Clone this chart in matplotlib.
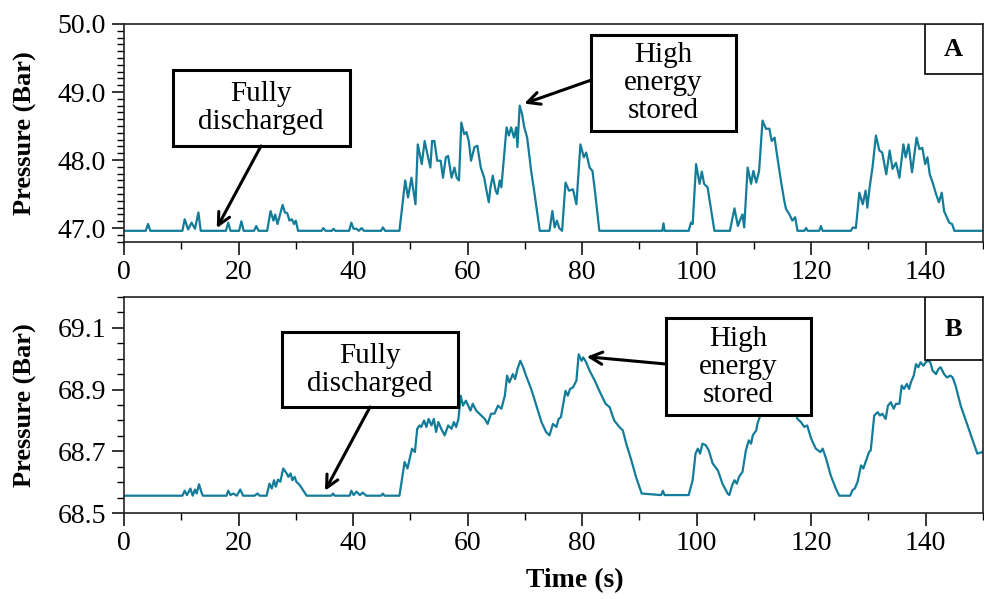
import matplotlib
matplotlib.use("Agg")
import matplotlib.pyplot as plt
from matplotlib.patches import Rectangle
from matplotlib.ticker import MultipleLocator, FormatStrFormatter

plt.rcParams["font.family"] = ["Liberation Serif", "DejaVu Serif"]

LINE_COLOR = "#137c99"

# Panel A: time (s) and pressure (bar)
time_a = [0, 3.8, 4.2, 4.6, 10.2, 10.6, 11.2, 11.8, 12.4, 13.0, 13.4, 17.8, 18.2, 18.6,
          20.1, 20.5, 20.9, 22.7, 23.1, 23.5, 25.0, 25.6, 26.1, 26.4, 26.8, 27.7, 28.1,
          28.5, 28.9, 29.3, 29.7, 30.0, 30.4, 34.5, 34.8, 35.2, 36.3, 36.6, 36.9, 39.3,
          39.7, 40.1, 40.6, 41.0, 41.5, 41.9, 44.9, 45.2, 45.6, 48.1, 49.1, 49.6, 50.2,
          50.9, 51.3, 52.0, 52.5, 53.1, 53.5, 53.8, 54.2, 54.7, 55.3, 55.7, 56.2, 56.6,
          57.2, 57.7, 58.1, 58.5, 58.9, 59.4, 59.8, 60.2, 60.6, 61.2, 61.7, 62.3, 62.9,
          63.3, 63.7, 64.0, 64.4, 64.9, 65.2, 65.6, 65.9, 66.8, 67.2, 67.6, 68.1, 68.5,
          68.7, 69.1, 69.5, 69.9, 70.4, 71.1, 71.7, 72.6, 74.3, 74.8, 75.2, 75.6, 76.0,
          76.5, 77.1, 77.7, 78.4, 79.0, 79.7, 80.3, 80.7, 81.3, 81.8, 82.3, 83.0, 94.0,
          94.2, 94.4, 98.6, 99.0, 99.3, 99.9, 100.5, 100.9, 101.3, 101.9, 103.1, 105.8,
          106.6, 107.2, 107.4, 108.0, 108.3, 108.9, 109.5, 109.9, 110.4, 110.9, 111.5,
          112.1, 112.7, 113.1, 113.6, 114.0, 114.7, 115.3, 115.6, 116.2, 116.7, 117.2,
          117.6, 118.8, 119.1, 119.4, 121.4, 121.7, 122.0, 126.9, 127.3, 127.8, 128.4,
          129.0, 129.5, 129.8, 130.2, 130.7, 131.3, 131.9, 132.4, 133.1, 133.7, 134.2,
          134.8, 135.4, 136.1, 136.5, 137.0, 137.6, 138.4, 138.9, 139.4, 139.9, 140.3,
          140.7, 141.2, 141.8, 142.3, 142.8, 143.2, 144.1, 144.6, 145.0, 150.0]
pressure_a = [46.96, 46.96, 47.06, 46.96, 46.96, 47.13, 46.98, 47.08, 46.99, 47.23, 46.96,
              46.96, 47.08, 46.96, 46.96, 47.10, 46.96, 46.96, 47.03, 46.96, 46.96, 47.25,
              47.11, 47.20, 47.06, 47.34, 47.23, 47.22, 47.11, 47.13, 47.06, 47.11, 46.96,
              46.96, 47.00, 46.96, 46.96, 46.99, 46.96, 46.96, 47.08, 46.99, 46.99, 46.96,
              47.00, 46.96, 46.96, 47.01, 46.96, 46.96, 47.70, 47.45, 47.74, 47.35, 48.23,
              47.94, 48.28, 48.04, 47.89, 48.28, 48.28, 47.99, 47.99, 47.74, 48.04, 48.06,
              47.74, 47.89, 47.74, 47.70, 48.55, 48.38, 48.41, 48.28, 47.99, 48.19, 48.21,
              47.89, 47.74, 47.55, 47.38, 47.60, 47.77, 47.55, 47.50, 47.70, 47.60, 48.48,
              48.36, 48.48, 48.33, 48.48, 48.19, 48.80, 48.68, 48.48, 48.33, 47.84, 47.50,
              46.96, 46.96, 47.25, 47.01, 47.11, 47.00, 46.96, 47.67, 47.55, 47.57, 47.35,
              48.23, 48.04, 48.11, 47.89, 47.84, 47.50, 46.96, 46.96, 47.07, 46.96, 46.96,
              47.08, 47.06, 47.94, 47.65, 47.83, 47.65, 47.60, 46.96, 46.96, 47.29, 47.03,
              47.08, 47.20, 47.01, 47.89, 47.65, 47.84, 47.67, 47.84, 48.58, 48.46, 48.46,
              48.28, 48.33, 48.09, 47.70, 47.40, 47.28, 47.20, 47.11, 47.16, 46.96, 46.96,
              47.00, 46.96, 46.96, 47.03, 46.96, 46.96, 47.01, 47.00, 47.52, 47.35, 47.55,
              47.30, 47.60, 47.89, 48.36, 48.14, 48.11, 47.79, 48.14, 47.87, 47.96, 47.74,
              48.23, 48.04, 48.23, 47.82, 48.33, 48.16, 48.18, 47.94, 48.04, 47.79, 47.67,
              47.50, 47.38, 47.52, 47.25, 47.08, 47.06, 46.96, 46.96]

# Panel B
time_b = [0, 10.2, 10.6, 11.0, 11.6, 12.0, 12.4, 12.7, 13.1, 13.6, 13.8, 17.9, 18.2, 18.6,
          19.1, 19.7, 20.3, 20.8, 22.8, 23.3, 23.7, 24.9, 25.4, 25.8, 26.2, 26.5, 26.9,
          27.3, 27.8, 28.4, 28.7, 29.1, 29.4, 29.8, 30.1, 30.7, 31.9, 36.2, 36.5, 36.8,
          39.4, 39.7, 40.1, 40.6, 41.2, 41.7, 42.3, 44.9, 45.2, 45.5, 48.1, 49.0, 49.5,
          49.9, 50.3, 50.8, 51.2, 51.6, 51.9, 52.4, 52.8, 53.2, 53.7, 54.1, 54.5, 54.9,
          55.4, 56.0, 56.6, 57.2, 57.6, 58.0, 58.4, 58.8, 59.2, 59.7, 60.1, 60.5, 60.9,
          61.5, 62.4, 63.0, 63.5, 64.1, 64.7, 65.3, 65.9, 66.5, 66.9, 67.3, 67.9, 68.3,
          68.7, 69.2, 69.7, 70.2, 71.1, 72.0, 72.9, 73.7, 74.3, 74.9, 75.5, 75.9, 76.3,
          77.1, 77.5, 77.9, 78.4, 79.0, 79.4, 79.9, 80.2, 80.7, 81.3, 82.2, 83.0, 84.1,
          84.8, 85.6, 86.5, 87.1, 87.7, 88.6, 89.4, 90.4, 93.8, 94.1, 94.4, 98.6, 99.3,
          99.8, 100.2, 100.6, 101.0, 101.6, 102.1, 102.8, 103.7, 104.5, 105.4, 105.7,
          106.2, 106.6, 107.0, 107.4, 108.0, 108.6, 109.1, 109.5, 109.8, 110.4, 110.6,
          111.2, 112.0, 113.0, 114.0, 115.0, 116.0, 117.0, 117.6, 118.2, 118.8, 119.3,
          120.0, 120.8, 121.6, 122.0, 122.6, 123.4, 124.3, 124.9, 126.8, 127.2, 127.6,
          128.1, 128.7, 129.1, 129.5, 130.1, 130.4, 131.0, 131.6, 132.0, 132.4, 133.0,
          133.4, 133.9, 134.4, 134.8, 135.4, 135.8, 136.2, 136.7, 137.1, 137.4, 137.9,
          138.3, 138.7, 139.1, 139.6, 140.0, 140.4, 140.8, 141.2, 141.8, 142.2, 142.6,
          143.2, 143.7, 144.3, 144.7, 145.2, 146.1, 147.3, 148.1, 149.0, 149.9, 150.0]
pressure_b = [68.557, 68.557, 68.573, 68.559, 68.580, 68.557, 68.577, 68.564, 68.594, 68.564,
              68.557, 68.557, 68.573, 68.559, 68.564, 68.557, 68.577, 68.557, 68.557, 68.564,
              68.557, 68.557, 68.596, 68.580, 68.607, 68.586, 68.609, 68.602, 68.645, 68.629,
              68.618, 68.629, 68.607, 68.618, 68.602, 68.591, 68.557, 68.557, 68.564, 68.557,
              68.557, 68.573, 68.559, 68.570, 68.559, 68.567, 68.557, 68.557, 68.564, 68.557,
              68.557, 68.666, 68.645, 68.677, 68.709, 68.698, 68.773, 68.784, 68.779, 68.800,
              68.779, 68.805, 68.784, 68.805, 68.763, 68.795, 68.773, 68.752, 68.784, 68.773,
              68.795, 68.779, 68.805, 68.880, 68.848, 68.864, 68.848, 68.832, 68.854, 68.832,
              68.816, 68.805, 68.789, 68.822, 68.822, 68.848, 68.838, 68.880, 68.945, 68.923,
              68.950, 68.934, 68.966, 68.993, 68.972, 68.945, 68.902, 68.848, 68.795, 68.763,
              68.752, 68.789, 68.779, 68.805, 68.811, 68.896, 68.880, 68.902, 68.907, 68.929,
              69.014, 68.993, 69.004, 68.988, 68.961, 68.929, 68.896, 68.854, 68.843, 68.800,
              68.779, 68.768, 68.725, 68.671, 68.618, 68.564, 68.559, 68.573, 68.559, 68.559,
              68.607, 68.693, 68.709, 68.693, 68.725, 68.720, 68.704, 68.661, 68.639, 68.596,
              68.564, 68.559, 68.591, 68.607, 68.596, 68.618, 68.634, 68.704, 68.736, 68.725,
              68.752, 68.768, 68.789, 68.822, 68.860, 68.890, 68.900, 68.880, 68.860, 68.840,
              68.805, 68.795, 68.779, 68.784, 68.741, 68.709, 68.698, 68.709, 68.677, 68.623,
              68.580, 68.557, 68.557, 68.575, 68.580, 68.602, 68.655, 68.645, 68.666, 68.698,
              68.704, 68.816, 68.827, 68.816, 68.822, 68.805, 68.848, 68.859, 68.838, 68.854,
              68.854, 68.913, 68.902, 68.918, 68.902, 68.923, 68.945, 68.982, 68.972, 68.988,
              68.977, 68.988, 68.993, 68.988, 68.961, 68.950, 68.966, 68.972, 68.950, 68.939,
              68.945, 68.939, 68.913, 68.848, 68.784, 68.741, 68.693, 68.698, 68.700]

fig = plt.figure(figsize=(9.84, 5.99), dpi=100)
ax_a = fig.add_axes([0.126, 0.5965, 0.873, 0.3635])
ax_b = fig.add_axes([0.126, 0.143, 0.873, 0.3617])


def style_axes(ax, ylim, major, offset, minor):
    ax.set_xlim(0, 150)
    ax.set_ylim(*ylim)
    ax.xaxis.set_major_locator(MultipleLocator(20))
    ax.xaxis.set_minor_locator(MultipleLocator(10))
    ax.yaxis.set_major_locator(MultipleLocator(major, offset=offset))
    ax.yaxis.set_minor_locator(MultipleLocator(minor))
    ax.yaxis.set_major_formatter(FormatStrFormatter("%.1f"))
    ax.tick_params(which="major", direction="out", length=9, width=1.1, labelsize=20, pad=4)
    ax.tick_params(which="minor", direction="out", length=5, width=1.0)
    for sp in ax.spines.values():
        sp.set_linewidth(1.2)
        sp.set_color("#222222")
    ax.set_ylabel("Pressure (Bar)", fontsize=19, fontweight="bold")
    ax.yaxis.set_label_coords(-0.101, 0.5)


def boxed_note(ax, text, box, center, start, tip):
    x0, y0, x1, y1 = box
    ax.add_patch(Rectangle((x0, y0), x1 - x0, y1 - y0, transform=ax.transAxes,
                           facecolor="white", edgecolor="black", lw=2.2, zorder=5))
    ax.text(center[0], center[1], text, transform=ax.transAxes, ha="center", va="center",
            fontsize=21, linespacing=1.1, zorder=6)
    ax.annotate("", xy=tip, xycoords="data", xytext=start, textcoords="axes fraction",
                arrowprops=dict(arrowstyle="->", lw=2.2, color="black", mutation_scale=22,
                                shrinkA=0, shrinkB=0), zorder=6)


def panel_tag(ax, tag, box, center):
    x0, y0, x1, y1 = box
    ax.add_patch(Rectangle((x0, y0), x1 - x0, y1 - y0, transform=ax.transAxes,
                           facecolor="white", edgecolor="black", lw=1.2, zorder=5))
    ax.text(center[0], center[1], tag, transform=ax.transAxes, ha="center", va="center",
            fontsize=19, fontweight="bold", zorder=6)


ax_a.plot(time_a, pressure_a, color=LINE_COLOR, lw=1.6)
style_axes(ax_a, (46.8, 50.0), 1.0, 0.0, 0.1)
boxed_note(ax_a, "Fully\ndischarged", (0.0567, 0.441, 0.2631, 0.789), (0.1595, 0.612),
           (0.1595, 0.4396), (16.2, 47.0))
boxed_note(ax_a, "High\nenergy\nstored", (0.5437, 0.5099, 0.7121, 0.9495), (0.6275, 0.727),
           (0.5437, 0.742), (69.9, 48.83))
panel_tag(ax_a, "A", (0.9325, 0.770, 1.0, 1.0), (0.965, 0.881))

ax_b.plot(time_b, pressure_b, color=LINE_COLOR, lw=1.6)
style_axes(ax_b, (68.5, 69.2), 0.2, 0.1, 0.05)
boxed_note(ax_b, "Fully\ndischarged", (0.1836, 0.4921, 0.3892, 0.8356), (0.2864, 0.662),
           (0.2864, 0.4908), (35.1, 68.573))
boxed_note(ax_b, "High\nenergy\nstored", (0.6306, 0.4538, 0.7994, 0.9003), (0.7148, 0.675),
           (0.6306, 0.6893), (80.8, 69.006))
panel_tag(ax_b, "B", (0.9325, 0.7064, 1.0, 1.0), (0.965, 0.847))
ax_b.set_xlabel("Time (s)", fontsize=20, fontweight="bold")
ax_b.xaxis.set_label_coords(0.525, -0.255)

fig.savefig("out.png", dpi=100)
